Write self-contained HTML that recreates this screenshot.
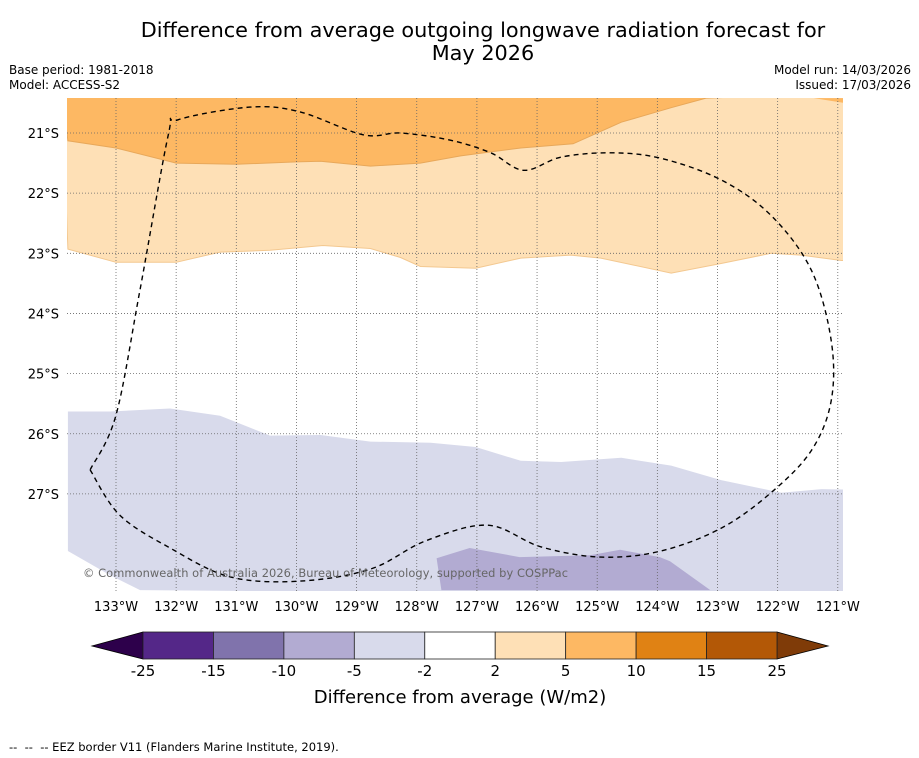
<!DOCTYPE html>
<html><head><meta charset="utf-8"><style>
body{margin:0;background:#fff;font-family:"Liberation Sans","DejaVu Sans",sans-serif;}
#wrap{position:relative;width:919px;height:758px;overflow:hidden}
.t{position:absolute;white-space:pre}
</style></head><body><div id="wrap">
<div class="t" style="left:0;width:966px;top:19px;text-align:center;font-size:20.8px;line-height:23px;font-family:'DejaVu Sans',sans-serif">Difference from average outgoing longwave radiation forecast for
May 2026</div>
<div class="t" style="left:9px;top:63px;font-size:12px;line-height:15px;font-family:'DejaVu Sans',sans-serif">Base period: 1981-2018
Model: ACCESS-S2</div>
<div class="t" style="right:8px;top:63px;font-size:12px;line-height:15px;text-align:right;font-family:'DejaVu Sans',sans-serif">Model run: 14/03/2026
Issued: 17/03/2026</div>
<svg id="map" width="919" height="758" style="position:absolute;left:0;top:0" font-family="DejaVu Sans, sans-serif"></svg>
<div class="t" style="left:9px;top:740px;font-size:11.5px;font-family:'DejaVu Sans',sans-serif">--  --  -- EEZ border V11 (Flanders Marine Institute, 2019).</div>
</div>
<script>
const lonTicks=[133,132,131,130,129,128,127,126,125,124,123,122,121];
const latTicks=[21,22,23,24,25,26,27];
const cbLevels=[-25,-15,-10,-5,-2,2,5,10,15,25];
const cbColors=['#542788','#8073ac','#b2abd2','#d8daeb','#ffffff','#fee0b6','#fdb863','#e08214','#b35806'];
// contour boundaries as [lonW, latS]
const darkOrangeEdge=[[133.8,21.13],[133,21.25],[132,21.5],[131,21.52],[130,21.48],[129.6,21.47],[128.77,21.55],[127.94,21.5],[127.27,21.38],[126.27,21.25],[125.4,21.18],[124.6,20.82],[123.77,20.58],[123.19,20.42]];
const darkOrangePatch=[[121.4,20.42],[120.9,20.5],[120.8,20.5],[120.8,20.42]];
const lightOrangeEdge=[[133.8,22.93],[133,23.15],[132,23.15],[131.27,22.98],[130.44,22.95],[129.56,22.87],[128.77,22.92],[128.27,23.07],[127.94,23.22],[127.02,23.25],[126.27,23.08],[125.44,23.03],[124.94,23.08],[123.77,23.33],[122.94,23.17],[122.11,23.0],[121.61,23.03],[120.94,23.12],[120.8,23.12]];
const lightPurpleEdge=[[133.8,25.63],[133.1,25.63],[132.1,25.58],[131.27,25.7],[130.44,26.03],[129.6,26.02],[128.77,26.13],[127.77,26.15],[127.02,26.22],[126.27,26.45],[125.6,26.47],[124.6,26.4],[123.77,26.53],[122.94,26.77],[121.94,26.98],[121.27,26.92],[120.8,26.93]];
const lowerLeftEdge=[[133.8,27.95],[133.1,28.35],[132.6,28.6]];
const darkPurplePatch=[[127.67,28.07],[127.12,27.9],[126.29,28.05],[125.12,28.02],[124.62,27.93],[123.96,28.05],[123.79,28.12],[123.12,28.6],[127.59,28.6]];
const eez=[[133.43,26.6],[133,25.69],[132.6,23.6],[132.13,21.03],[131.97,20.78],[130.77,20.57],[129.94,20.65],[128.89,21.03],[128.27,21.0],[127.44,21.12],[126.77,21.33],[126.22,21.62],[125.6,21.4],[124.77,21.33],[123.94,21.42],[122.94,21.78],[122.11,22.37],[121.44,23.28],[121.11,24.45],[121.11,25.45],[121.44,26.28],[122.11,26.98],[122.94,27.57],[123.94,27.95],[124.94,28.05],[125.94,27.88],[126.82,27.52],[127.85,27.78],[128.77,28.25],[129.94,28.45],[131.1,28.38],[132.1,27.9],[132.94,27.35],[133.43,26.6]];
const X0=67,X1=843,Y0=98,Y1=591;
const sx=lon=>116+(133-lon)*60.15;
const sy=lat=>133+(lat-21)*60.15;
const NS='http://www.w3.org/2000/svg';
const svg=document.getElementById('map');
function mk(tag,attrs,parent){const e=document.createElementNS(NS,tag);for(const k in attrs)e.setAttribute(k,attrs[k]);(parent||svg).appendChild(e);return e;}
const pts=a=>a.map(p=>sx(p[0]).toFixed(1)+','+sy(p[1]).toFixed(1));
function smooth(a){const P=a.map(p=>[sx(p[0]),sy(p[1])]);let d='M'+P[0][0]+','+P[0][1];
for(let i=0;i<P.length-1;i++){const p0=P[Math.max(i-1,0)],p1=P[i],p2=P[i+1],p3=P[Math.min(i+2,P.length-1)];
const c1=[p1[0]+(p2[0]-p0[0])/6,p1[1]+(p2[1]-p0[1])/6],c2=[p2[0]-(p3[0]-p1[0])/6,p2[1]-(p3[1]-p1[1])/6];
d+=` C${c1[0].toFixed(1)},${c1[1].toFixed(1)} ${c2[0].toFixed(1)},${c2[1].toFixed(1)} ${p2[0].toFixed(1)},${p2[1].toFixed(1)}`;}return d;}
const defs=mk('defs',{});const cp=mk('clipPath',{id:'cp'},defs);mk('rect',{x:X0,y:Y0,width:X1-X0,height:Y1-Y0},cp);
const g=mk('g',{'clip-path':'url(#cp)'});


let p;
p=mk('polygon',{points:[X0+','+Y0,X1+','+Y0,X1+','+Y1,X0+','+Y1].join(' '),fill:'#fff'},g);
p=mk('polygon',{points:[X0-5+','+(Y0-5),X1+5+','+(Y0-5),...pts(lightOrangeEdge).reverse(),X0-5+','+(Y0-5)].join(' '),fill:'#fee0b6',stroke:'#f3c890','stroke-width':1},g);


p=mk('polygon',{points:[X0-5+','+(Y0-5),X1+5+','+(Y0-5),...pts(darkOrangeEdge).reverse()].join(' '),fill:'#fdb863',stroke:'#e8a85a','stroke-width':1},g);


p=mk('polygon',{points:pts(darkOrangePatch).join(' '),fill:'#fdb863'},g);


p=mk('polygon',{points:[...pts(lightPurpleEdge),X1+5+','+(Y1+5),...pts(lowerLeftEdge).reverse()].join(' '),fill:'#d8daeb'},g);


p=mk('polygon',{points:pts(darkPurplePatch).join(' '),fill:'#b2abd2'},g);


lonTicks.forEach(l=>{const x=sx(l);const e=mk('line',{x1:x,x2:x,y1:Y0,y2:Y1,stroke:'#666','stroke-width':0.8,'stroke-dasharray':'1,2'},g);


const t=mk('text',{x:x,y:611,'font-size':13,'text-anchor':'middle'});t.textContent=l+'°W';

});
latTicks.forEach(l=>{const y=sy(l);const e=mk('line',{x1:X0,x2:X1,y1:y,y2:y,stroke:'#666','stroke-width':0.8,'stroke-dasharray':'1,2'},g);


const t=mk('text',{x:59,y:y+5,'font-size':13,'text-anchor':'end'});t.textContent=l+'°S';

});
p=mk('path',{d:smooth(eez),fill:'none',stroke:'#000','stroke-width':1.4,'stroke-dasharray':'5,4'},g);


const cr=mk('text',{x:83,y:577,'font-size':11.4,fill:'#666',textLength:485},g);cr.textContent='© Commonwealth of Australia 2026, Bureau of Meteorology, supported by COSPPac';


// colorbar
const cb=mk('g',{});


const CX0=143,CX1=777,CY0=632,CY1=659,cw=(CX1-CX0)/(cbLevels.length-1);
mk('polygon',{points:`${CX0},${CY0} 92,646 ${CX0},${CY1}`,fill:'#2d004b',stroke:'#000','stroke-width':0.8},cb);
mk('polygon',{points:`${CX1},${CY0} 828,646 ${CX1},${CY1}`,fill:'#7f3b08',stroke:'#000','stroke-width':0.8},cb);
cbColors.forEach((c,i)=>{const r=mk('rect',{x:CX0+i*cw,y:CY0,width:cw,height:CY1-CY0,fill:c,stroke:'#222','stroke-width':0.8},cb);

});
cbLevels.forEach((v,i)=>{const t=mk('text',{x:CX0+i*cw,y:676,'font-size':15,'text-anchor':'middle'},cb);t.textContent=v;

});
const ct=mk('text',{x:460,y:703,'font-size':18,'text-anchor':'middle'});ct.textContent='Difference from average (W/m2)';


</script></body></html>
